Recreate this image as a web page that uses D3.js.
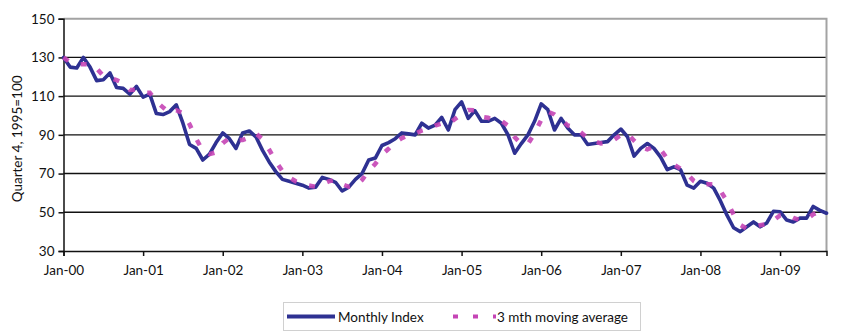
<!DOCTYPE html>
<html>
<head>
<meta charset="utf-8">
<script src="https://cdn.jsdelivr.net/npm/d3@7"></script>
<style>
  html, body { margin: 0; padding: 0; background: #fff; }
  svg text { font-family: Lato, "Open Sans", sans-serif; fill: #111; }
</style>
</head>
<body>
<svg id="chart" width="850" height="335"></svg>
<script>
// ---- data ----
const startYear = 2000;
const monthCount = 116; // Jan-00 .. Aug-09
const tickLabels = ["Jan-00","Jan-01","Jan-02","Jan-03","Jan-04","Jan-05","Jan-06","Jan-07","Jan-08","Jan-09"];
const yTicks = [30, 50, 70, 90, 110, 130, 150];
const seriesNames = ["Monthly Index", "3 mth moving average"];

const monthlyIndex = [
  130, 125, 124.5, 130, 125, 118, 118.5, 122, 114.5, 114, 111, 115,       // 2000
  109.5, 111, 101, 100.5, 102, 105.5, 96, 85, 83, 77, 80, 86,              // 2001
  91, 88, 83, 91, 92, 89, 82, 76, 71, 67, 66, 65,                          // 2002
  64, 62.5, 63, 68, 67, 65.5, 61, 63, 67, 70, 77, 78,                      // 2003
  84.5, 86, 88, 91, 90.5, 90, 96, 93.5, 95, 99, 92.5, 103,                 // 2004
  107, 98.5, 102.5, 97, 97, 98.5, 96, 90, 80.5, 85.5, 90, 97,              // 2005
  106, 103, 92.5, 98.5, 93.5, 90, 90, 85, 85.5, 86, 86.5, 90,              // 2006
  93, 89, 79, 83, 85.5, 83, 78.5, 72, 73.5, 72, 64, 62.5,                  // 2007
  66, 65, 62.5, 56, 48.5, 42, 40, 42.5, 45, 42.5, 44.5, 50.5,              // 2008
  50.3, 46, 45, 47, 47, 53, 51, 49.5                                       // 2009
];

const movingAverage = [
  130, 127.5, 126.5, 126.5, 126.5, 124.3, 120.5, 119.5, 118.3, 116.8, 113.2, 113.3,
  111.8, 111.8, 107.2, 104.2, 101.2, 102.7, 101.2, 95.5, 88, 81.7, 80, 81,
  85.7, 88.3, 87.3, 87.3, 88.7, 90.7, 87.7, 82.3, 76.3, 71.3, 68, 66,
  65, 63.8, 63.2, 64.5, 66, 66.8, 64.5, 63.2, 63.7, 66.7, 71.3, 75,
  79.8, 82.8, 86.2, 88.3, 89.8, 90.5, 92.2, 93.2, 94.8, 95.8, 95.5, 98.2,
  100.8, 102.8, 102.7, 99.3, 98.8, 97.5, 97.2, 94.8, 88.8, 85.3, 85.3, 90.8,
  97.7, 102, 100.5, 98, 94.8, 94, 91.2, 88.3, 86.8, 85.5, 86, 87.5,
  89.8, 90.7, 87, 83.7, 82.5, 83.8, 82.3, 77.8, 74.7, 72.5, 69.8, 66.2,
  64.2, 64.5, 64.5, 61.2, 55.7, 48.8, 43.5, 41.5, 42.5, 43.3, 44, 45.8,
  48.4, 48.9, 47.1, 46, 46.3, 49, 50.3, 51.2
];

// ---- layout ----
const svg = d3.select("#chart");
const plot = { left: 63.5, right: 826.5, top: 18.7, bottom: 251 };
const blue = "#2e3192", magenta = "#c545b5";

const months = d3.range(monthCount);
const x = d3.scalePoint().domain(months).range([plot.left, plot.right]);
const y = d3.scaleLinear().domain([30, 150]).range([plot.bottom, plot.top]);

// gridlines
svg.append("g").selectAll("line")
  .data(yTicks.filter(v => v > 30 && v < 150))
  .join("line")
  .attr("x1", plot.left).attr("x2", plot.right)
  .attr("y1", d => y(d)).attr("y2", d => y(d))
  .attr("stroke", "#111").attr("stroke-width", 1.4);

// frame top and right (grey)
svg.append("path")
  .attr("d", `M${plot.left},${y(150)}H${plot.right}V${plot.bottom}`)
  .attr("fill", "none").attr("stroke", "#a3a3a3").attr("stroke-width", 2);

// y axis
const yAxis = svg.append("g")
  .attr("transform", `translate(${plot.left},0)`)
  .call(d3.axisLeft(y).tickValues(yTicks).tickSize(5).tickPadding(4).tickFormat(d3.format("d")));
yAxis.select(".domain").attr("stroke", "#111").attr("stroke-width", 1.5);
yAxis.selectAll(".tick line").attr("stroke", "#111").attr("stroke-width", 1.5);
yAxis.selectAll(".tick text").attr("font-size", 13.5).attr("font-family", "Lato, sans-serif").attr("fill", "#111");

// x axis
const janMonths = tickLabels.map((_, i) => i * 12);
const xAxis = svg.append("g")
  .attr("transform", `translate(0,${plot.bottom})`)
  .call(d3.axisBottom(x).tickValues(janMonths).tickSize(5).tickPadding(9)
    .tickFormat(d => tickLabels[d / 12]));
xAxis.select(".domain").attr("stroke", "#111").attr("stroke-width", 1.5);
xAxis.selectAll(".tick line").attr("stroke", "#111").attr("stroke-width", 1.5);
xAxis.selectAll(".tick text").attr("font-size", 13.5).attr("font-family", "Lato, sans-serif").attr("fill", "#111");

// y title
svg.append("text")
  .attr("transform", `translate(22,${(plot.top + plot.bottom) / 2 + 4}) rotate(-90)`)
  .attr("text-anchor", "middle")
  .attr("font-size", 13.5)
  .text("Quarter 4, 1995=100");

// lines
const line = d3.line().x((d, i) => x(i)).y(d => y(d));

svg.append("path")
  .datum(monthlyIndex)
  .attr("d", line)
  .attr("fill", "none")
  .attr("stroke", blue)
  .attr("stroke-width", 3.6)
  .attr("stroke-linejoin", "round")
  .attr("stroke-linecap", "round");

svg.append("path")
  .datum(movingAverage)
  .attr("d", line)
  .attr("fill", "none")
  .attr("stroke", magenta)
  .attr("stroke-width", 4.5)
  .attr("stroke-dasharray", "6,13")
  .attr("opacity", 0.9);

// legend
const lg = svg.append("g");
lg.append("rect")
  .attr("x", 283.5).attr("y", 302.5).attr("width", 357).attr("height", 28)
  .attr("fill", "#fff").attr("stroke", "#d0d0d0").attr("stroke-width", 1);
lg.append("line")
  .attr("x1", 287).attr("x2", 335).attr("y1", 316.5).attr("y2", 316.5)
  .attr("stroke", blue).attr("stroke-width", 4);
lg.append("text").attr("x", 338).attr("y", 321.5).attr("font-size", 13.5).text(seriesNames[0]);
lg.append("line")
  .attr("x1", 453).attr("x2", 496).attr("y1", 316.5).attr("y2", 316.5)
  .attr("stroke", magenta).attr("stroke-width", 4).attr("stroke-dasharray", "5,15");
lg.append("text").attr("x", 497).attr("y", 321.5).attr("font-size", 13.5).text(seriesNames[1]);
</script>
</body>
</html>
